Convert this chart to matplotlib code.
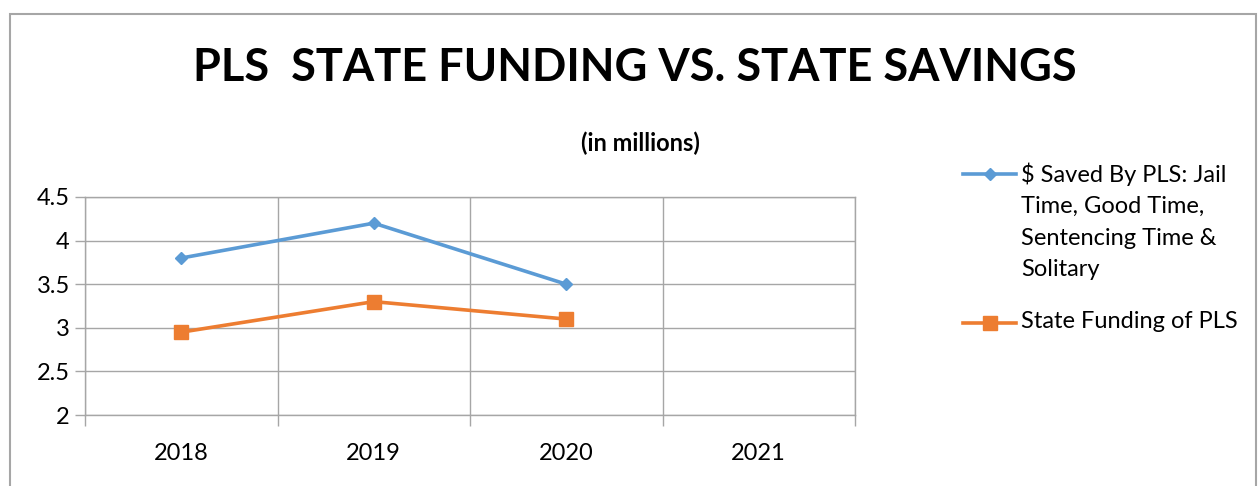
import matplotlib
matplotlib.use("Agg")
import matplotlib.pyplot as plt
from matplotlib.lines import Line2D
from matplotlib.patches import Rectangle

plt.rcParams['font.family'] = ['Lato', 'DejaVu Sans']

years = ['2018', '2019', '2020', '2021']
saved = [3.8, 4.2, 3.5]
funding = [2.95, 3.3, 3.1]
saved_label = '$ Saved By PLS: Jail\nTime, Good Time,\nSentencing Time &\nSolitary'
funding_label = 'State Funding of PLS'

blue = '#5B9BD5'
orange = '#ED7D31'
grid_col = '#A6A6A6'

fig = plt.figure(figsize=(12.59, 4.86), dpi=100)
# outer chart border
fig.add_artist(Rectangle((10 / 1259, -0.1), 1246 / 1259, 1.1 - 14 / 486,
                         transform=fig.transFigure, fill=False,
                         edgecolor=grid_col, linewidth=1.5))

ax = fig.add_axes([85 / 1259, 71 / 486, 770 / 1259, 218 / 486])

x = range(len(years))
ax.plot(x[:len(saved)], saved, color=blue, lw=2.6, marker='D', ms=6.5)
ax.plot(x[:len(funding)], funding, color=orange, lw=2.6, marker='s', ms=9.5)

ax.set_xlim(-0.5, len(years) - 0.5)
ax.set_ylim(2, 4.5)
ax.set_yticks([2, 2.5, 3, 3.5, 4, 4.5])
ax.set_yticklabels(['2', '2.5', '3', '3.5', '4', '4.5'])
ax.set_xticks(list(x))
ax.set_xticklabels(years)
ax.set_xticks([i - 0.5 for i in range(len(years) + 1)], minor=True)
ax.tick_params(axis='x', which='major', length=0, pad=20, labelsize=17)
ax.tick_params(axis='x', which='minor', length=8, color=grid_col, width=1)
ax.tick_params(axis='y', length=7, color=grid_col, width=1, labelsize=17, pad=4)
ax.grid(True, axis='y', color=grid_col, lw=1)
ax.grid(True, axis='x', which='minor', color=grid_col, lw=1)
ax.set_axisbelow(True)
for s in ax.spines.values():
    s.set_color(grid_col)
    s.set_linewidth(1)

fig.text(635 / 1259, 1 - 68 / 486, 'PLS  STATE FUNDING VS. STATE SAVINGS',
         ha='center', va='center', fontsize=32.5, fontweight='bold')
fig.text(640 / 1259, 1 - 143 / 486, '(in millions)', ha='center', va='center',
         fontsize=17, fontweight='bold')

# legend drawn by hand, Excel style (handle aligned with first text line)
def leg_entry(y, color, marker, ms, label):
    yf = 1 - y / 486
    fig.add_artist(Line2D([963 / 1259, 1016 / 1259], [yf, yf], color=color, lw=2.6,
                          transform=fig.transFigure))
    fig.add_artist(Line2D([990 / 1259], [yf], color=color, marker=marker, ms=ms,
                          transform=fig.transFigure))
    fig.text(1021 / 1259, 1 - (y - 12) / 486, label, ha='left', va='top',
             fontsize=17, linespacing=1.62)

leg_entry(174, blue, 'D', 6.5, saved_label)
leg_entry(323, orange, 's', 9.5, funding_label)

fig.savefig('out.png', dpi=100)
